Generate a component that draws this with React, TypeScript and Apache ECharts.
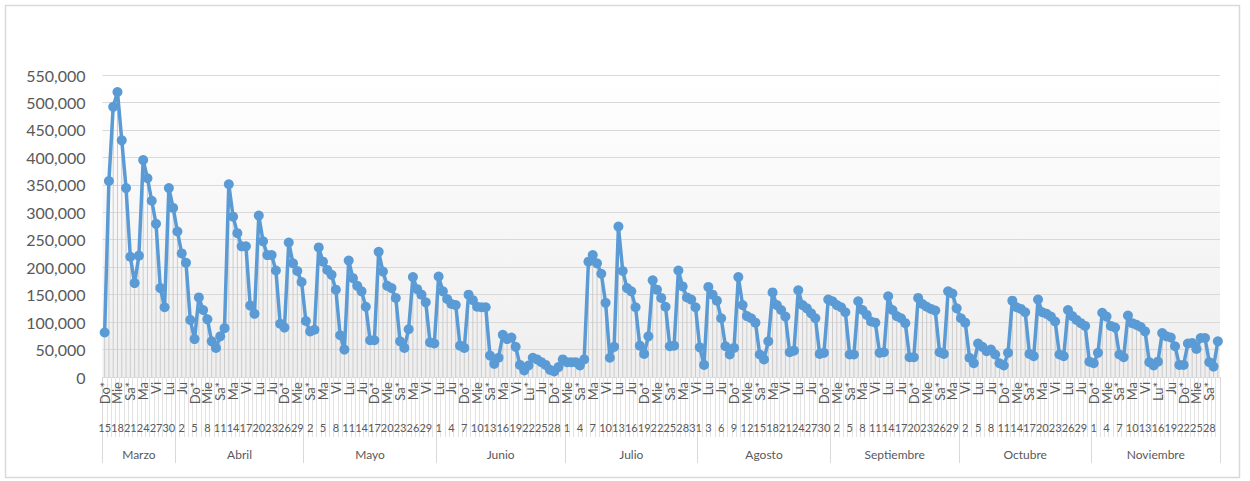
import React, { useEffect, useRef } from 'react';
import * as echarts from 'echarts';

// ---- categories ----
const monthNames = ['Marzo', 'Abril', 'Mayo', 'Junio', 'Julio', 'Agosto', 'Septiembre', 'Octubre', 'Noviembre'];
const monthFirstDay = [15, 1, 1, 1, 1, 1, 1, 1, 1];
const monthLength = [17, 30, 31, 30, 31, 31, 30, 31, 30];
const weekdayAbbr = ['Do', 'Lu', 'Ma', 'Mie', 'Ju', 'Vi', 'Sa'];
const firstWeekday = 0; // 15 de marzo = domingo
// festivos [mes (índice), día]
const holidays = [[0, 23], [1, 9], [1, 10], [2, 1], [2, 25], [3, 15], [3, 22], [3, 29], [4, 20], [5, 7], [5, 17], [7, 12], [8, 2], [8, 16]];

// ---- y axis ----
const yMin = 0;
const yMax = 550000;
const yStep = 50000;

// ---- series values (per month) ----
const marzo = [81000, 357000, 492000, 519000, 431000, 344000, 219000, 171000, 221000, 395000, 362000, 321000, 279000, 162000, 127000, 344000, 308000];
const abril = [265000, 225000, 208000, 104000, 69000, 145000, 122000, 105000, 65000, 53000, 74000, 89000, 351000, 292000, 262000, 238000, 238000, 130000, 115000, 294000, 247000, 222000, 222000, 194000, 97000, 90000, 245000, 207000, 193000, 173000];
const mayo = [102000, 83000, 86000, 236000, 210000, 195000, 186000, 159000, 76000, 50000, 212000, 180000, 166000, 156000, 128000, 67000, 67000, 228000, 192000, 166000, 162000, 144000, 65000, 53000, 87000, 182000, 160000, 150000, 136000, 63000, 61000];
const junio = [183000, 156000, 142000, 133000, 131000, 57000, 53000, 150000, 140000, 128000, 127000, 127000, 39000, 24000, 35000, 77000, 69000, 72000, 55000, 22000, 12000, 21000, 35000, 32000, 27000, 22000, 13000, 10000, 18000, 32000];
const julio = [27000, 27000, 27000, 21000, 32000, 210000, 222000, 207000, 188000, 135000, 35000, 55000, 274000, 193000, 162000, 156000, 127000, 57000, 42000, 74000, 176000, 159000, 144000, 128000, 56000, 57000, 194000, 165000, 145000, 141000, 127000];
const agosto = [54000, 22000, 164000, 150000, 139000, 107000, 56000, 41000, 53000, 182000, 131000, 111000, 107000, 99000, 41000, 32000, 65000, 154000, 131000, 122000, 110000, 45000, 48000, 158000, 131000, 125000, 116000, 107000, 42000, 44000, 141000];
const septiembre = [138000, 131000, 127000, 118000, 41000, 41000, 138000, 122000, 113000, 101000, 99000, 44000, 45000, 147000, 122000, 111000, 107000, 98000, 36000, 36000, 144000, 133000, 128000, 124000, 121000, 45000, 42000, 156000, 152000, 125000];
const octubre = [107000, 99000, 35000, 25000, 61000, 55000, 47000, 50000, 41000, 25000, 21000, 44000, 139000, 127000, 124000, 118000, 42000, 38000, 141000, 118000, 115000, 110000, 101000, 41000, 38000, 122000, 111000, 104000, 98000, 93000, 28000];
const noviembre = [25000, 44000, 117000, 110000, 93000, 90000, 41000, 36000, 112000, 98000, 95000, 91000, 83000, 27000, 21000, 28000, 80000, 74000, 72000, 56000, 22000, 22000, 61000, 62000, 51000, 71000, 71000, 27000, 19000, 65000];

const values = [...marzo, ...abril, ...mayo, ...junio, ...julio, ...agosto, ...septiembre, ...octubre, ...noviembre];

// build category labels
const dowLabels: string[] = [];
const dayLabels: string[] = [];
const monthLabels: string[] = [];
const monthOfIndex: number[] = [];
const monthStart: number[] = [];
const monthCenter: number[] = [];
(() => {
  let k = 0;
  monthNames.forEach((name, m) => {
    monthStart.push(k);
    monthCenter.push(k + Math.floor((monthLength[m] - 1) / 2));
    for (let j = 0; j < monthLength[m]; j++) {
      const d = monthFirstDay[m] + j;
      const wd = (firstWeekday + k) % 7;
      const star = wd === 0 || wd === 6 || holidays.some((h) => h[0] === m && h[1] === d);
      dowLabels.push(weekdayAbbr[wd] + (star ? '*' : ''));
      dayLabels.push(String(d));
      monthLabels.push(name);
      monthOfIndex.push(m);
      k++;
    }
  });
})();

const FONT = 'Lato';
const TXT = '#595959';

export default function App() {
  const ref = useRef<HTMLDivElement>(null);
  useEffect(() => {
    document.body.style.margin = '0';
    if (!ref.current) return;
    const chart = echarts.init(ref.current, undefined, { renderer: 'svg' });
    const gridLeft = 102.5;
    const gridRight = 30;
    const gridTop = 75;
    const gridBottom = 104;
    const plotW = 1250 - gridLeft - gridRight;
    const band = plotW / values.length;
    chart.setOption({
      animation: false,
      textStyle: { fontFamily: FONT },
      grid: {
        left: gridLeft,
        right: gridRight,
        top: gridTop,
        bottom: gridBottom,
        show: true,
        borderWidth: 0,
        outerBoundsMode: 'none',
        backgroundColor: new echarts.graphic.LinearGradient(0, 0, 0, 1, [
          { offset: 0, color: '#ffffff' },
          { offset: 1, color: '#eeeeee' },
        ]),
      },
      graphic: [
        {
          type: 'rect',
          shape: { x: 5.5, y: 5.5, width: 1234, height: 472 },
          style: { fill: 'none', stroke: '#d9d9d9', lineWidth: 1.5 },
          silent: true,
        },
      ],
      xAxis: [
        {
          type: 'category',
          position: 'bottom',
          offset: 0,
          data: dowLabels,
          boundaryGap: true,
          axisLine: { show: true, lineStyle: { color: '#d9d9d9', width: 1 } },
          axisTick: { show: true, interval: 0, length: 60, lineStyle: { color: '#e2e2e2', width: 1 } },
          axisLabel: { interval: 2, rotate: 90, margin: 5, fontSize: 13, color: TXT, fontFamily: FONT },
          splitLine: { show: false },
        },
        {
          type: 'category',
          position: 'bottom',
          offset: 0,
          data: dayLabels,
          boundaryGap: true,
          axisLine: { show: false },
          axisTick: { show: false },
          axisLabel: { interval: 2, margin: 45, fontSize: 11, color: TXT, fontFamily: FONT },
        },
        {
          type: 'category',
          position: 'bottom',
          offset: 0,
          data: monthLabels,
          boundaryGap: true,
          axisLine: { show: false },
          axisTick: {
            show: true,
            interval: (i: number) => monthStart.includes(i),
            length: 86,
            lineStyle: { color: '#d9d9d9', width: 1 },
          },
          axisLabel: {
            interval: (i: number) => monthCenter.includes(i),
            margin: 71,
            fontSize: 12,
            color: TXT,
            fontFamily: FONT,
            formatter: (v: string, i: number) => (monthLength[monthOfIndex[i]] % 2 === 0 ? `{e|${v}}` : v),
            rich: { e: { padding: [0, 0, 0, band], fontSize: 12, color: TXT, fontFamily: FONT } },
          },
        },
      ],
      yAxis: {
        type: 'value',
        min: yMin,
        max: yMax,
        interval: yStep,
        axisLine: { show: false },
        axisTick: { show: false },
        axisLabel: {
          fontSize: 16,
          color: TXT,
          margin: 17,
          fontFamily: FONT,
          formatter: (v: number) => v.toLocaleString('en-US'),
        },
        splitLine: { lineStyle: { color: '#d9d9d9', width: 1 } },
      },
      series: [
        {
          type: 'bar',
          data: values,
          xAxisIndex: 0,
          barWidth: 1,
          itemStyle: { color: '#cccccc' },
          silent: true,
          z: 1,
        },
        {
          type: 'line',
          data: values,
          xAxisIndex: 0,
          symbol: 'circle',
          symbolSize: 10,
          showAllSymbol: true,
          lineStyle: { color: '#5b9bd5', width: 3.5 },
          itemStyle: { color: '#5b9bd5' },
          z: 3,
        },
      ],
    });
    return () => chart.dispose();
  }, []);
  return <div ref={ref} style={{ width: 1250, height: 481 }} />;
}
